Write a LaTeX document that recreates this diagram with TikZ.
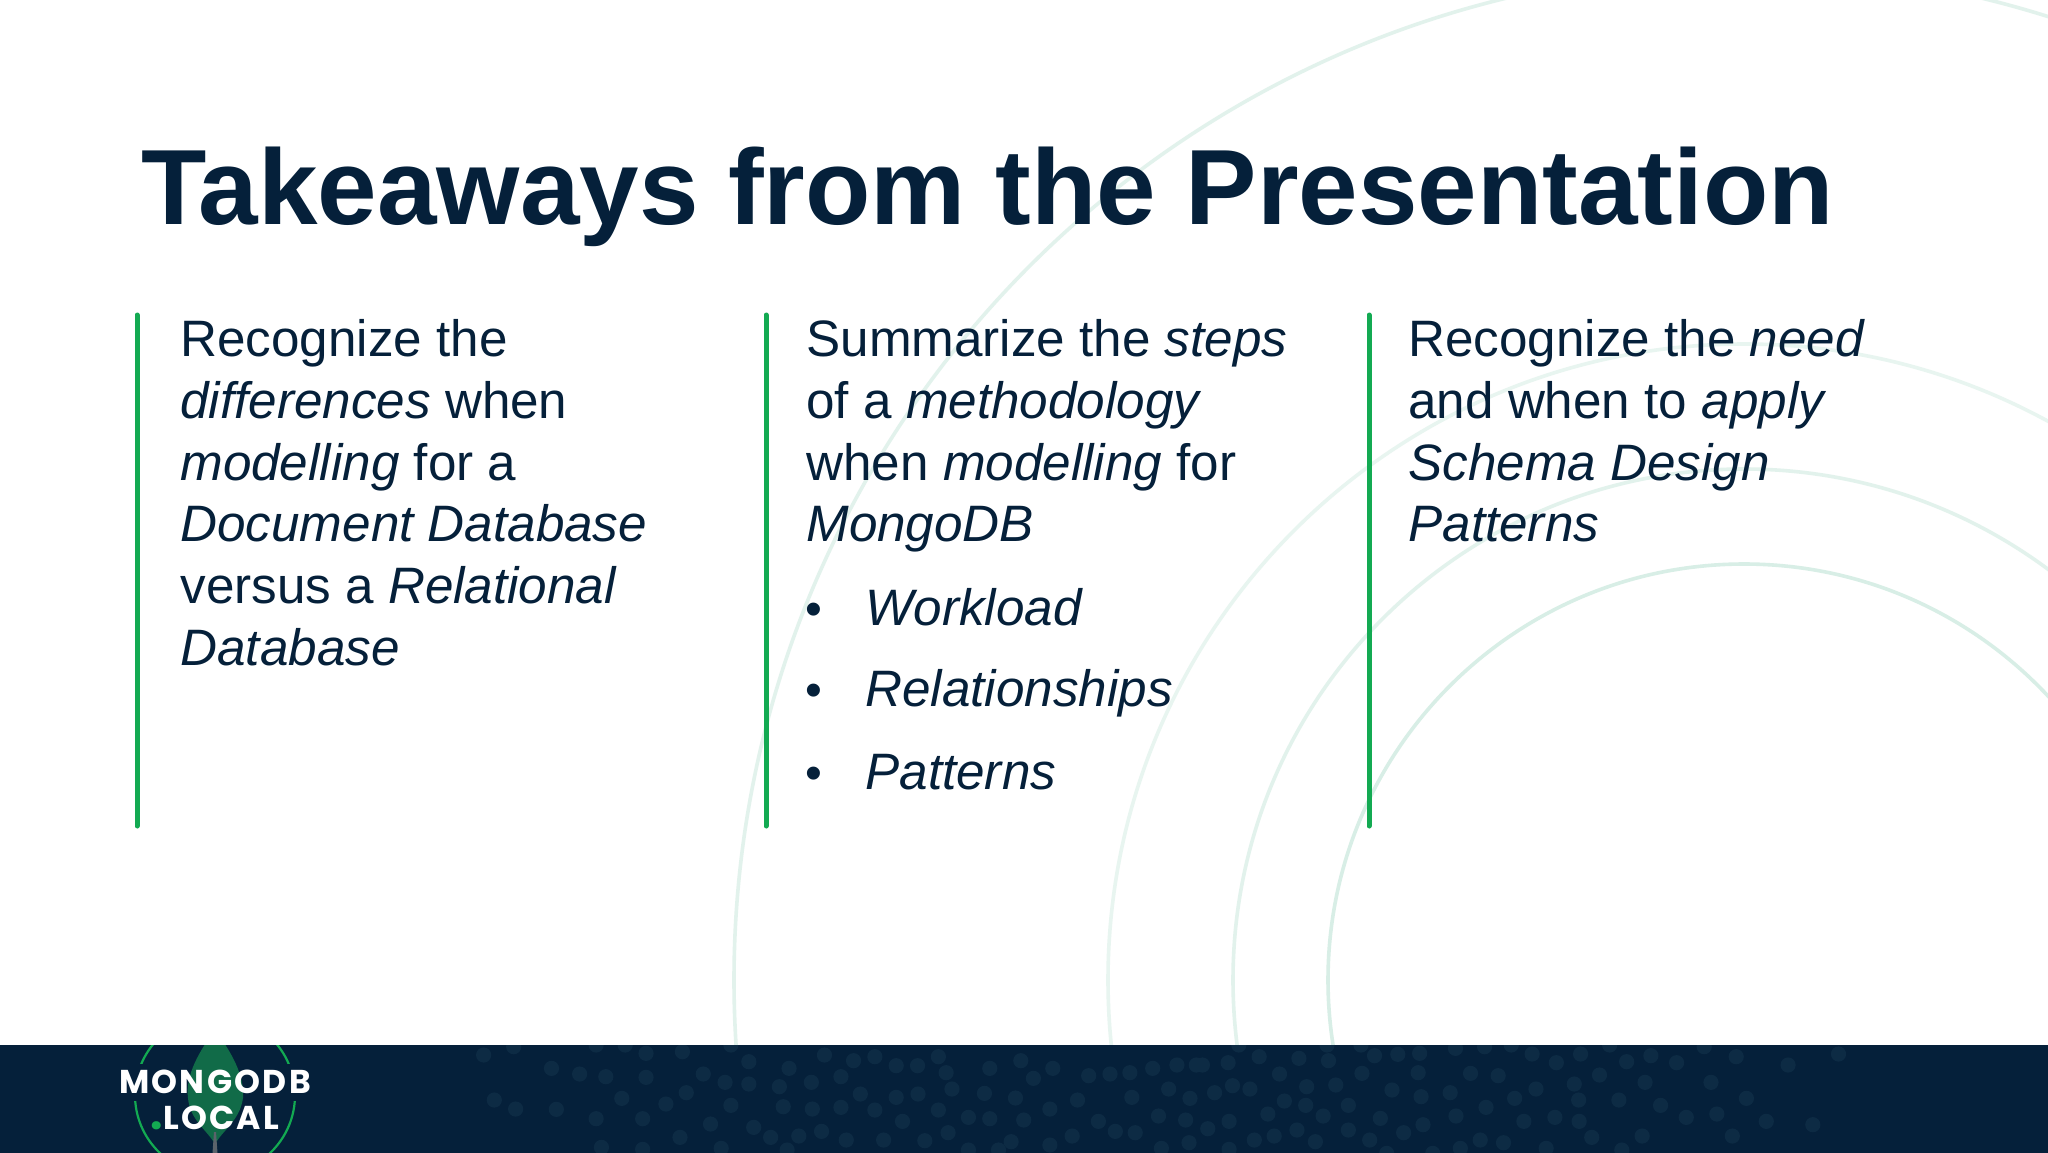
\documentclass[tikz,border=0pt]{standalone}
\usepackage{fontspec}
\setmainfont{Liberation Sans}
\newfontfamily\logofont[LetterSpace=7]{Poppins}
\definecolor{navy}{HTML}{05203A}
\definecolor{leafgreen}{HTML}{13AA52}
\definecolor{ringgreen}{HTML}{D8EEE6}
\definecolor{dotnavy}{HTML}{0D2B44}
\definecolor{leafdark}{HTML}{116B48}
\tikzset{
  bar/.style={leafgreen, line width=2.5pt, line cap=round},
  ring/.style={line width=1.8pt},
  body/.style={navy, font=\fontsize{25.6}{30.9}\selectfont, inner sep=0pt, anchor=north west, align=left},
  item/.style={navy, font=\fontsize{25.6}{30.9}\selectfont\itshape, inner sep=0pt, anchor=base west},
  bullet/.style={navy, font=\fontsize{24}{30}\selectfont, inner sep=0pt, anchor=base},
  logo/.style={white, font=\logofont\bfseries\fontsize{16.5}{16}\selectfont, inner sep=0pt, anchor=base}
}
\begin{document}
\begin{tikzpicture}[x=0.5pt,y=-0.5pt]
    \useasboundingbox (0,0) rectangle (2048,1152);
    \fill [white] (0,0) rectangle (2048,1152);
    % background rings
    \begin{scope}
    \clip (0,0) rectangle (2048,1045);
    \foreach \r/\t in {416/100,511/75,636/60,1010/75}
      \draw [ring, ringgreen!\t!white] (1744,980) circle [radius=\r*0.5pt];
    \end{scope}
    % footer band
    \fill [navy] (-4,1045) rectangle (2052,1160);
    \begin{scope}
    \clip (-4,1045) rectangle (2052,1160);
    % dots, first half
    \begin{scope}[shift={(440,1040)}, x=0.2424pt, y=-0.1667pt]
    \foreach \px/\py in {90/45,152/20,230/85,288/102,342/110,425/112,425/40,500/35,322/15,382/15,600/15,637/65,543/102,588/127,637/132,720/85,700/140,766/127,827/110,793/45,853/62,897/50,941/77,985/77,1028/50,1044/98,1134/85,1198/62,1224/115,1264/85,1338/107,1382/102,1423/98,1470/85,1520/75,1560/75,112/180,156/207,240/208,375/175,322/236,466/192,508/158,418/236,600/196,558/252,495/292,333/322,418/328,580/325,647/262,682/292,740/288,787/274,708/200,768/207,827/202,867/162,941/172,986/162,1056/147,1123/160,1187/174,1315/180,1427/172,1503/147,1547/175,897/210,1028/210,954/244,1090/232,1134/236,1204/240,1258/207,1358/244,1393/274,1434/278,1482/228,1538/240,1048/278,1000/302,915/300,838/300,716/330,1178/305,1304/288,1258/315,1152/330,1090/330,1488/325,1545/308}
      \fill [dotnavy] (\px,\py) circle [radius=3.8pt];
    \end{scope}
    % dots, second half
    \begin{scope}[shift={(1200,1040)}, x=0.2424pt, y=-0.1667pt]
    \foreach \px/\py in {80/15,262/15,332/15,527/25,587/20,642/15,845/15,1040/20,58/68,122/50,204/55,265/62,360/47,408/43,453/40,685/42,785/42,930/47,880/65,735/68,983/68,1106/50,1213/75,1317/42,5/75,164/102,334/100,450/98,558/100,615/107,824/105,772/132,918/127,1054/127,693/147,30/158,67/137,103/147,220/140,280/135,396/150,456/170,516/158,174/183,218/196,306/196,649/175,590/202,781/180,864/180,950/196,1127/175,140/222,60/244,254/228,372/235,528/228,460/254,668/244,732/232,782/244,1003/232,1066/222,1168/244,1264/254,16/266,112/300,153/288,200/270,238/305,306/270,350/300,420/278,578/300,626/308,808/292,912/288,1098/288,60/328,537/325,714/325,870/330,480/340,385/340}
      \fill [dotnavy] (\px,\py) circle [radius=3.8pt];
    \end{scope}
    % logo
    \draw [leafgreen, line width=1.1pt] (215,1095) circle [radius=40pt];
    \fill [navy] (120,1064) rectangle (165,1101);
    \fill [navy] (265,1064) rectangle (310,1101);
    \fill [leafdark] (215,1030) .. controls (200,1050) and (185,1075) .. (188,1098) .. controls (190,1120) and (207,1130) .. (215,1144) .. controls (223,1130) and (240,1120) .. (243,1098) .. controls (245,1075) and (230,1050) .. (215,1030);
    \fill [gray!70!navy] (214,1132) -- (216,1132) -- (218,1160) -- (212,1160) -- cycle;
    \end{scope}
    \node [logo] (mongodb) at (215,1093) {MONGODB};
    \node [logo] (local) at (215,1129) {\textcolor{leafgreen}{\fontsize{22}{16}\selectfont.}LOCAL};
    % title
    \node [navy, font=\fontsize{53.5}{60}\selectfont\bfseries, inner sep=0pt, anchor=base west] (title) at (141,224) {Takeaways from the Presentation};
    % columns
    \draw [bar] (137,315) -- (137,826);
    \draw [bar] (766,315) -- (766,826);
    \draw [bar] (1369,315) -- (1369,826);
    \node [body] (left) at (180,319) {Recognize the\\\textit{differences} when\\\textit{modelling} for a\\\textit{Document Database}\\versus a \textit{Relational}\\\textit{Database}};
    \node [body] (middle) at (806,319) {Summarize the \textit{steps}\\of a \textit{methodology}\\when \textit{modelling} for\\\textit{MongoDB}};
    \node [body] (right) at (1408,319) {Recognize the \textit{need}\\and when to \textit{apply}\\\textit{Schema Design}\\\textit{Patterns}};
    \node [item] (workload) at (865,625) {Workload};
    \node [item] (relationships) at (865,706) {Relationships};
    \node [item] (patterns) at (865,789) {Patterns};
    \node [bullet] (dota) at (814,625) {•};
    \node [bullet] (dotb) at (814,706) {•};
    \node [bullet] (dotc) at (814,789) {•};
\end{tikzpicture}
\end{document}
